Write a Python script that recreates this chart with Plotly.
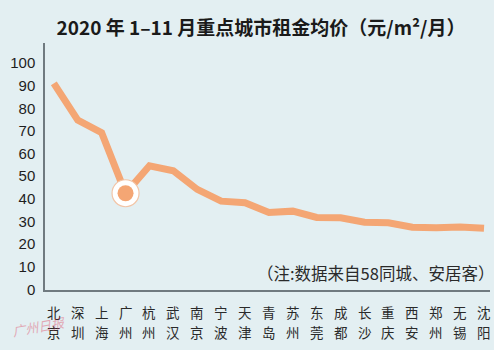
import plotly.graph_objects as go

cities = ["北京", "深圳", "上海", "广州", "杭州", "武汉", "南京", "宁波", "天津", "青岛",
          "苏州", "东莞", "成都", "长沙", "重庆", "西安", "郑州", "无锡", "沈阳"]
rent = [91.0, 74.8, 69.2, 42.5, 54.6, 52.4, 44.2, 39.0, 38.3, 34.0,
        34.6, 31.8, 31.7, 29.7, 29.5, 27.5, 27.3, 27.6, 27.0]
highlight = "广州"
y_ticks = [0, 10, 20, 30, 40, 50, 60, 70, 80, 90, 100]

BG = "#e3eff2"
ORANGE = "#f4a674"
CJK = "Noto Sans CJK SC"
PLOT_H = 247

x = list(range(len(cities)))
hi = cities.index(highlight)

fig = go.Figure()
fig.add_trace(go.Scatter(x=x, y=rent, mode="lines",
                         line=dict(color=ORANGE, width=7), hoverinfo="skip"))
fig.add_trace(go.Scatter(x=[hi], y=[rent[hi]], mode="markers",
                         marker=dict(size=27, color="white",
                                     line=dict(color="#f2c4a6", width=1.2))))
fig.add_trace(go.Scatter(x=[hi], y=[rent[hi]], mode="markers",
                         marker=dict(size=16, color=ORANGE, line=dict(width=0))))

annotations = []
# two-row category labels (one character per row), placed on the x scale
for xi, c in zip(x, cities):
    for row, ypix in ((0, 312), (1, 332)):
        annotations.append(dict(text=c[row], x=xi, xref="x", yref="paper",
                                y=-(ypix - 290) / PLOT_H, yanchor="middle", xanchor="center",
                                showarrow=False,
                                font=dict(family=CJK, size=13.5, color="#2a2a2a")))
annotations += [
    dict(text="（注:数据来自58同城、安居客）", xref="paper", yref="paper",
         x=(496 - 40) / 450, xanchor="right", y=(290 - 273) / PLOT_H, yanchor="middle",
         showarrow=False, font=dict(family=CJK, size=16.5, color="#2a2a2a")),
    dict(text="<i>广州日报</i>", xref="paper", yref="paper",
         x=-6 / 450, xanchor="center", y=-36 / PLOT_H, yanchor="middle", textangle=-10,
         showarrow=False, opacity=0.4, font=dict(family=CJK, size=13, color="#e0405a")),
]

fig.update_layout(
    width=500, height=350,
    margin=dict(l=40, r=10, t=43, b=60),
    paper_bgcolor=BG, plot_bgcolor=BG,
    showlegend=False,
    title=dict(text="<b>2020 年 1–11 月重点城市租金均价（元/m²/月）</b>",
               x=261 / 500, xanchor="center", xref="container", y=1 - 28 / 350, yanchor="middle",
               font=dict(family=CJK, size=19, color="#1a1a1a")),
    xaxis=dict(range=[-0.37, 18.25], tickmode="array", tickvals=x, showticklabels=False,
               showgrid=False, zeroline=False, showline=True, linecolor="#707a80", linewidth=1.5,
               ticks=""),
    yaxis=dict(range=[-0.2, 108.8], tickmode="array", tickvals=y_ticks,
               showgrid=False, zeroline=False, showline=True, linecolor="#707a80", linewidth=1.5,
               ticks="", ticklabelstandoff=5,
               tickfont=dict(family="Liberation Sans, Arial", size=15, color="#1e1e1e")),
    annotations=annotations,
    shapes=[dict(type="rect", xref="paper", yref="paper",
                 x0=(494 - 40) / 450, x1=(500 - 40) / 450 + 0.05,
                 y0=-70 / PLOT_H, y1=1 + 60 / PLOT_H,
                 fillcolor="white", line=dict(width=0), layer="above")],
)

fig.write_html("out.html")
